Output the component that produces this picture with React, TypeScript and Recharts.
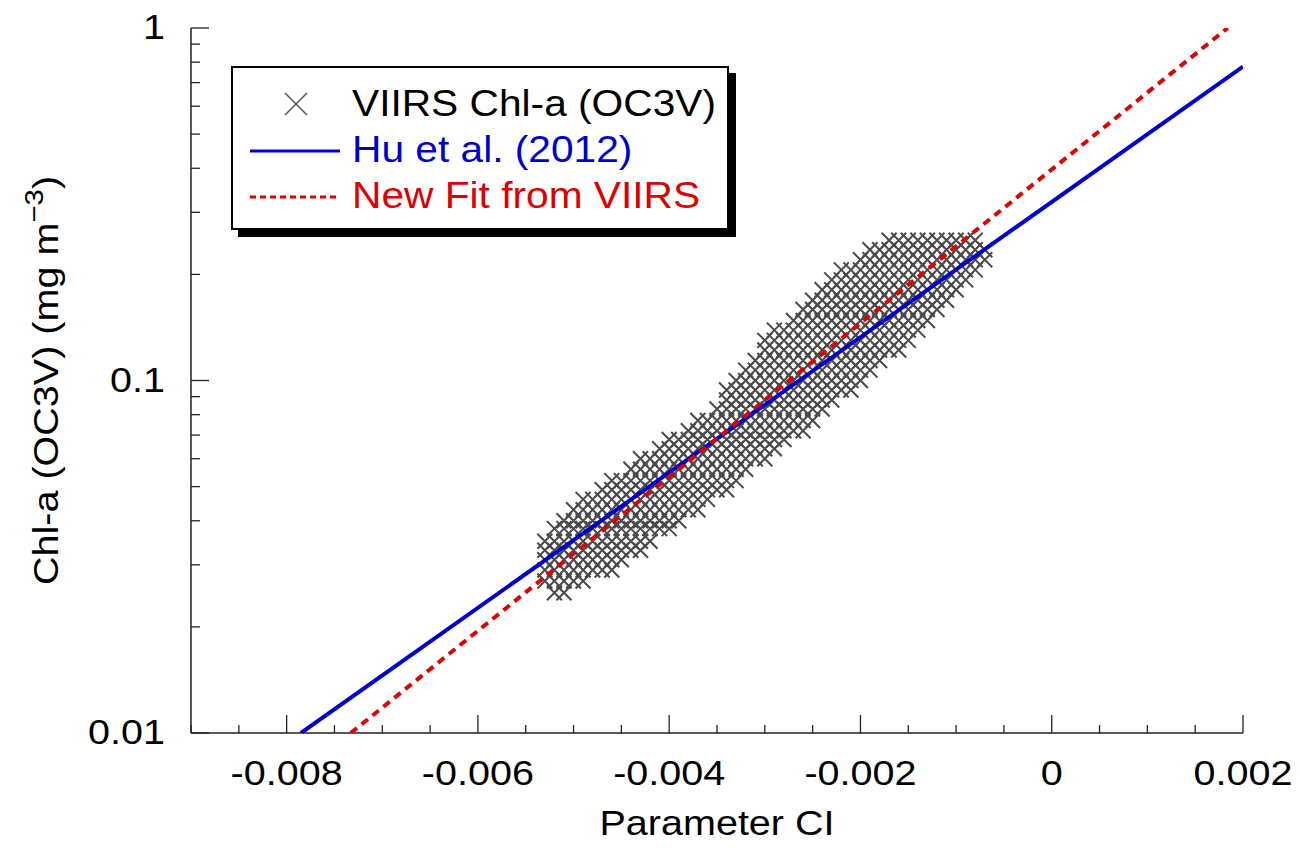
import React from 'react';
import { ScatterChart, Scatter, XAxis, YAxis, Legend } from 'recharts';

const FONT = '"Liberation Sans", Arial, Helvetica, sans-serif';
const STRETCH = 1.13;
// tick renderer gets its anchor pushed out by tickSize + tickMargin
const TICK_SIZE = 2;
const TICK_MARGIN = 2;
const OFF = TICK_SIZE + TICK_MARGIN;

// chl-a values are quantized; these are the levels the crosses sit on
const chlLevels = [
  0.025, 0.027, 0.029, 0.031, 0.033, 0.035, 0.038, 0.040, 0.043, 0.046, 0.049, 0.052,
  0.056, 0.060, 0.064, 0.068, 0.072, 0.077, 0.083, 0.088, 0.094, 0.100, 0.107, 0.114,
  0.122, 0.130, 0.139, 0.148, 0.159, 0.169, 0.181, 0.193, 0.206, 0.220, 0.235, 0.250,
];

// one column of crosses per CI bin: lowest and highest chl seen in it
const cloudCi = [
  -0.0053, -0.0052, -0.0051, -0.005, -0.0049, -0.0048, -0.0047, -0.0046, -0.0045, -0.0044,
  -0.0043, -0.0042, -0.0041, -0.004, -0.0039, -0.0038, -0.0037, -0.0036, -0.0035, -0.0034,
  -0.0033, -0.0032, -0.0031, -0.003, -0.0029, -0.0028, -0.0027, -0.0026, -0.0025, -0.0024,
  -0.0023, -0.0022, -0.0021, -0.002, -0.0019, -0.0018, -0.0017, -0.0016, -0.0015, -0.0014,
  -0.0013, -0.0012, -0.0011, -0.001, -0.0009, -0.0008, -0.0007,
];
const cloudLo = [
  0.027, 0.025, 0.025, 0.027, 0.027, 0.029, 0.029, 0.029, 0.031, 0.033,
  0.033, 0.035, 0.038, 0.038, 0.040, 0.043, 0.043, 0.046, 0.049, 0.049,
  0.052, 0.056, 0.060, 0.060, 0.064, 0.068, 0.072, 0.072, 0.077, 0.083,
  0.088, 0.094, 0.094, 0.100, 0.107, 0.114, 0.122, 0.122, 0.130, 0.139,
  0.148, 0.159, 0.169, 0.181, 0.193, 0.206, 0.220,
];
const cloudHi = [
  0.035, 0.038, 0.040, 0.043, 0.046, 0.046, 0.049, 0.052, 0.052, 0.056,
  0.060, 0.060, 0.064, 0.068, 0.068, 0.072, 0.077, 0.077, 0.083, 0.094,
  0.100, 0.107, 0.114, 0.130, 0.139, 0.139, 0.148, 0.159, 0.169, 0.181,
  0.193, 0.206, 0.206, 0.220, 0.235, 0.235, 0.250, 0.250, 0.250, 0.250,
  0.250, 0.250, 0.250, 0.250, 0.250, 0.250, 0.235,
];

// the two fitted lines (straight in log space), end points
const huCi = [-0.00785, 0.002];
const huChl = [0.01, 0.777];
const fitCi = [-0.00733, 0.00184];
const fitChl = [0.01, 1.0];

const xTicks = [
  -0.009, -0.0085, -0.008, -0.0075, -0.007, -0.0065, -0.006, -0.0055, -0.005, -0.0045, -0.004,
  -0.0035, -0.003, -0.0025, -0.002, -0.0015, -0.001, -0.0005, 0, 0.0005, 0.001, 0.0015, 0.002,
];
const xLabels = [-0.008, -0.006, -0.004, -0.002, 0, 0.002];
const yTicks = [
  0.01, 0.02, 0.03, 0.04, 0.05, 0.06, 0.07, 0.08, 0.09,
  0.1, 0.2, 0.3, 0.4, 0.5, 0.6, 0.7, 0.8, 0.9, 1,
];
const yLabels = [0.01, 0.1, 1];

const cloud = cloudCi.flatMap((ci, i) =>
  chlLevels.filter((v) => v >= cloudLo[i] && v <= cloudHi[i]).map((chl) => ({ ci, chl }))
);
const huLine = huCi.map((ci, i) => ({ ci, chl: huChl[i] }));
const fitLine = fitCi.map((ci, i) => ({ ci, chl: fitChl[i] }));

const isIn = (list: number[], v: number) => list.some((l) => Math.abs(l - v) < 1e-9);

const Cross = (p: any) => {
  const { cx, cy } = p;
  const s = 7.5;
  return (
    <path
      d={`M${cx - s},${cy - s}L${cx + s},${cy + s}M${cx - s},${cy + s}L${cx + s},${cy - s}`}
      stroke="#4a4a4a"
      strokeWidth={2}
      fill="none"
    />
  );
};

const NoDot = () => <g />;

const makeXTick = (top: boolean) => (props: any) => {
  const { x, payload } = props;
  const y = top ? props.y + OFF : props.y - OFF;
  const v = payload.value;
  const major = isIn(xLabels, v);
  const len = major ? 18 : 8;
  return (
    <g>
      <line x1={x} x2={x} y1={y} y2={top ? y + len : y - len} stroke="#222" strokeWidth={1.3} />
      {!top && major && (
        <text
          transform={`translate(${x},${y + 52}) scale(${STRETCH},1)`}
          textAnchor="middle"
          fontSize={35}
          fill="#000"
          fontFamily={FONT}
        >
          {v === 0 ? '0' : String(v)}
        </text>
      )}
    </g>
  );
};

const makeYTick = (right: boolean) => (props: any) => {
  const { y, payload } = props;
  const x = right ? props.x - OFF : props.x + OFF;
  const v = payload.value;
  const major = isIn(yLabels, v);
  const len = major ? 18 : 9;
  return (
    <g>
      <line x1={x} x2={right ? x - len : x + len} y1={y} y2={y} stroke="#222" strokeWidth={1.3} />
      {!right && major && (
        <text
          transform={`translate(${x - 26},${y + 11}) scale(${STRETCH},1)`}
          textAnchor="end"
          fontSize={35}
          fill="#000"
          fontFamily={FONT}
        >
          {String(v)}
        </text>
      )}
    </g>
  );
};

const XTitle = (props: any) => {
  const { viewBox } = props;
  return (
    <text
      transform={`translate(${viewBox.x + viewBox.width / 2},${viewBox.y + 102}) scale(${STRETCH},1)`}
      textAnchor="middle"
      fontSize={35}
      fill="#000"
      fontFamily={FONT}
    >
      Parameter CI
    </text>
  );
};

const YTitle = (props: any) => {
  const { viewBox } = props;
  return (
    <text
      transform={`translate(${viewBox.x + 50},${viewBox.y + viewBox.height / 2}) rotate(-90) scale(${STRETCH},1)`}
      textAnchor="middle"
      fontSize={35}
      fill="#000"
      fontFamily={FONT}
    >
      Chl-a (OC3V) (mg m
      <tspan dy={-15} fontSize={26}>
        −3
      </tspan>
      <tspan dy={15}>)</tspan>
    </text>
  );
};

const legendRows = [
  { label: 'VIIRS Chl-a (OC3V)', color: '#000', kind: 'cross' },
  { label: 'Hu et al. (2012)', color: '#0000cc', kind: 'solid' },
  { label: 'New Fit from VIIRS', color: '#dd0000', kind: 'dash' },
];

const LegendBox = () => (
  <div
    style={{
      width: 498,
      height: 164,
      boxSizing: 'border-box',
      border: '2px solid #000',
      boxShadow: '7px 7px 0 #000',
      background: '#fff',
      paddingTop: 13,
      fontFamily: FONT,
    }}
  >
    {legendRows.map((r) => (
      <div key={r.label} style={{ display: 'flex', alignItems: 'center', height: 46 }}>
        <svg width={119} height={46}>
          {r.kind === 'cross' && (
            <path d="M52,12L74,34M52,34L74,12" stroke="#555" strokeWidth={1.5} fill="none" />
          )}
          {r.kind === 'solid' && <line x1={17} x2={107} y1={24} y2={24} stroke={r.color} strokeWidth={3} />}
          {r.kind === 'dash' && (
            <line x1={17} x2={107} y1={24} y2={24} stroke={r.color} strokeWidth={3} strokeDasharray="6 4" />
          )}
        </svg>
        <span
          style={{
            fontSize: 36,
            color: r.color,
            whiteSpace: 'nowrap',
            display: 'inline-block',
            transform: `scaleX(${STRETCH})`,
            transformOrigin: 'left center',
            lineHeight: '46px',
          }}
        >
          {r.label}
        </span>
      </div>
    ))}
  </div>
);

export default function App() {
  return (
    <div style={{ fontFamily: FONT }}>
      <ScatterChart width={1284} height={840} margin={{ top: 20, right: 49, bottom: 0, left: 0 }}>
        <XAxis
          xAxisId="b"
          dataKey="ci"
          type="number"
          domain={[-0.009, 0.002]}
          ticks={xTicks}
          interval={0}
          allowDataOverflow
          height={115}
          tickSize={TICK_SIZE}
          tickMargin={TICK_MARGIN}
          tickLine={false}
          axisLine={{ stroke: '#222', strokeWidth: 1.5 }}
          tick={makeXTick(false)}
          label={{ content: XTitle }}
        />
        <XAxis
          xAxisId="t"
          orientation="top"
          dataKey="ci"
          type="number"
          domain={[-0.009, 0.002]}
          ticks={xTicks}
          interval={0}
          allowDataOverflow
          height={0}
          tickSize={TICK_SIZE}
          tickMargin={TICK_MARGIN}
          tickLine={false}
          axisLine={{ stroke: '#222', strokeWidth: 1.5 }}
          tick={makeXTick(true)}
        />
        <YAxis
          yAxisId="l"
          dataKey="chl"
          type="number"
          scale="log"
          domain={[0.01, 1]}
          ticks={yTicks}
          interval={0}
          allowDataOverflow
          width={183}
          tickSize={TICK_SIZE}
          tickMargin={TICK_MARGIN}
          tickLine={false}
          axisLine={{ stroke: '#222', strokeWidth: 1.5 }}
          tick={makeYTick(false)}
          label={{ content: YTitle }}
        />
        <YAxis
          yAxisId="r"
          orientation="right"
          dataKey="chl"
          type="number"
          scale="log"
          domain={[0.01, 1]}
          ticks={yTicks}
          interval={0}
          allowDataOverflow
          width={0}
          tickSize={TICK_SIZE}
          tickMargin={TICK_MARGIN}
          tickLine={false}
          axisLine={{ stroke: '#222', strokeWidth: 1.5 }}
          tick={makeYTick(true)}
        />
        <Scatter
          xAxisId="t"
          yAxisId="r"
          data={huLine}
          shape={NoDot}
          isAnimationActive={false}
          legendType="none"
        />
        <Scatter
          name="VIIRS Chl-a (OC3V)"
          xAxisId="b"
          yAxisId="l"
          data={cloud}
          shape={Cross}
          isAnimationActive={false}
        />
        <Scatter
          name="Hu et al. (2012)"
          xAxisId="b"
          yAxisId="l"
          data={huLine}
          shape={NoDot}
          line={{ stroke: '#0000cc', strokeWidth: 4 }}
          isAnimationActive={false}
        />
        <Scatter
          name="New Fit from VIIRS"
          xAxisId="b"
          yAxisId="l"
          data={fitLine}
          shape={NoDot}
          line={{ stroke: '#dd0000', strokeWidth: 4, strokeDasharray: '8 6' }}
          isAnimationActive={false}
        />
        <Legend
          layout="horizontal"
          verticalAlign="middle"
          align="center"
          content={LegendBox}
          wrapperStyle={{ left: 223, top: 58, width: 'auto' }}
        />
      </ScatterChart>
    </div>
  );
}
